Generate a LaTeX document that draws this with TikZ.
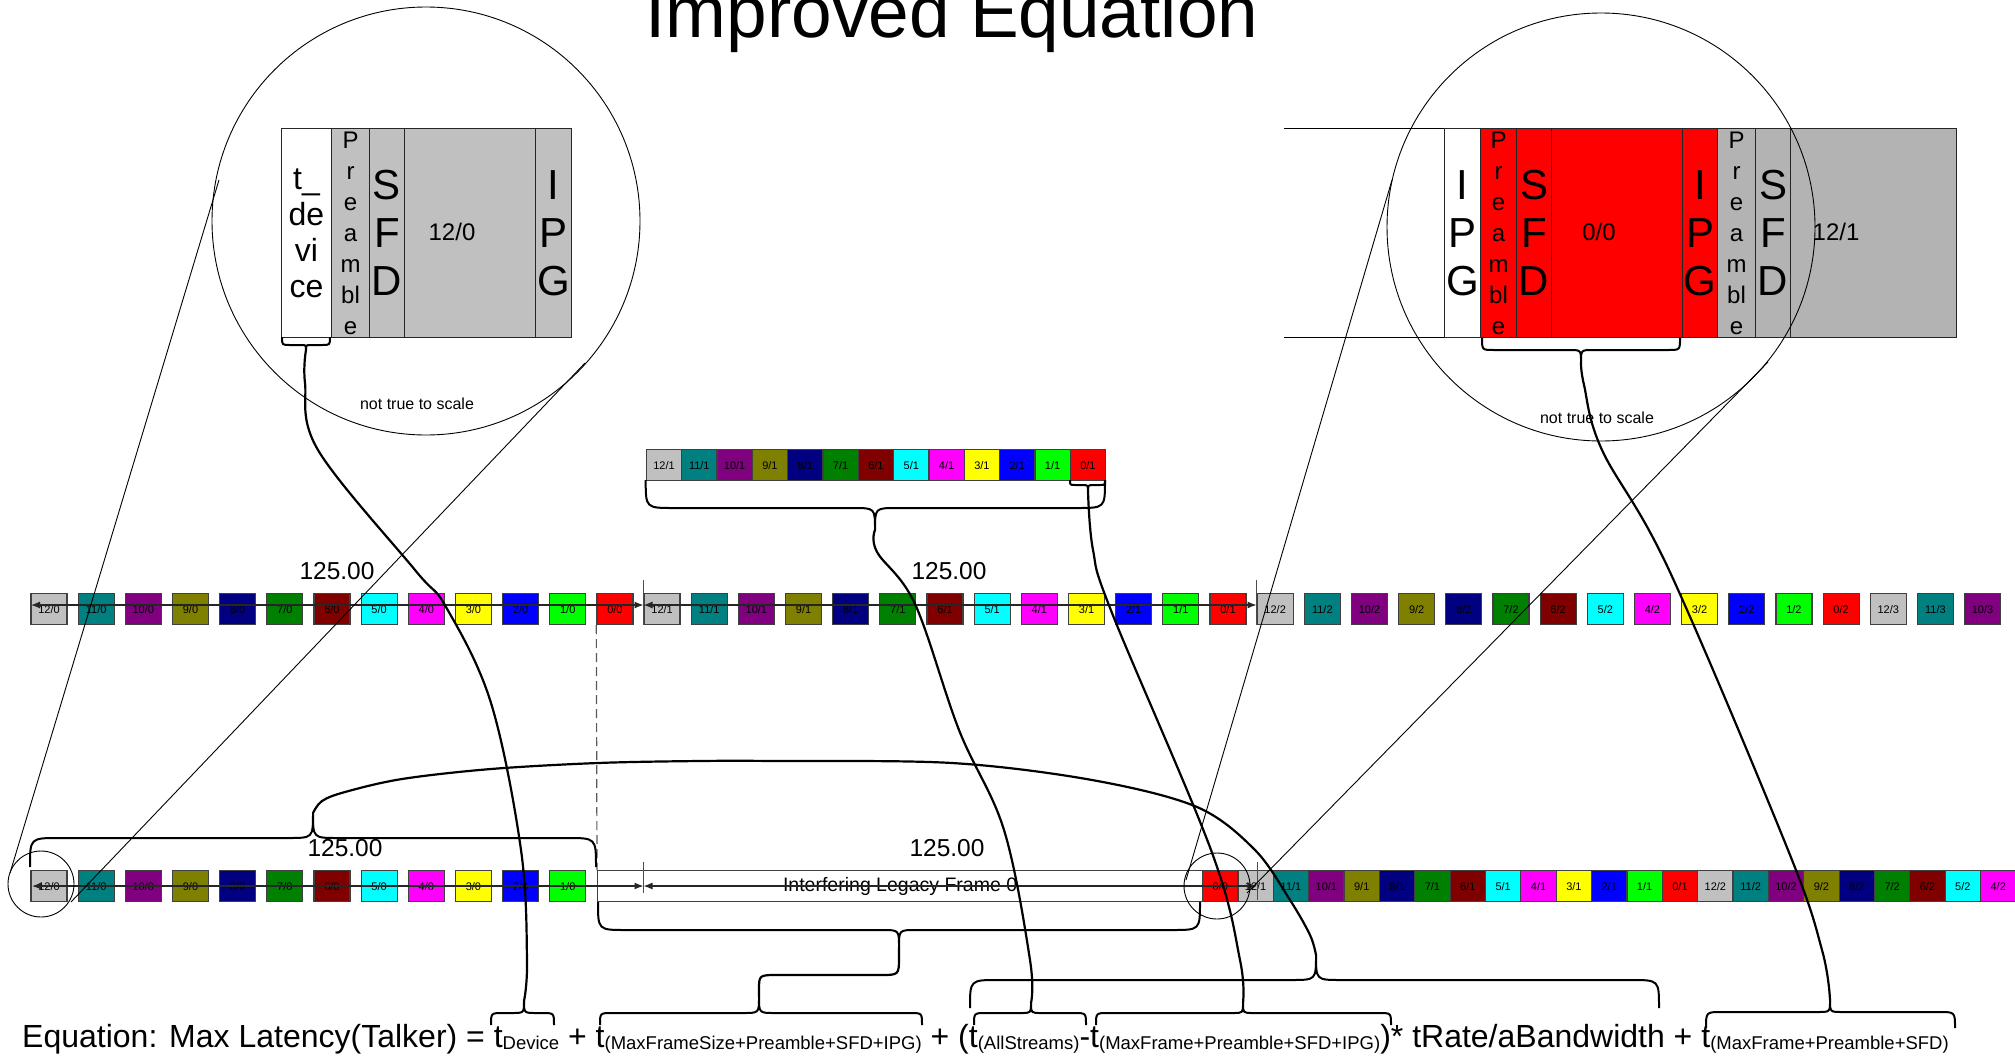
\documentclass[tikz,border=0pt]{standalone}
\usepackage{fontspec}
\setmainfont{Liberation Sans}
\usetikzlibrary{arrows.meta}

% stream colours: index = stream number
\definecolor{col12}{HTML}{C0C0C0}
\definecolor{col11}{HTML}{008080}
\definecolor{col10}{HTML}{800080}
\definecolor{col9}{HTML}{808000}
\definecolor{col8}{HTML}{000080}
\definecolor{col7}{HTML}{008000}
\definecolor{col6}{HTML}{800000}
\definecolor{col5}{HTML}{00FFFF}
\definecolor{col4}{HTML}{FF00FF}
\definecolor{col3}{HTML}{FFFF00}
\definecolor{col2}{HTML}{0000FF}
\definecolor{col1}{HTML}{00FF00}
\definecolor{col0}{HTML}{FF0000}
\definecolor{zgray}{HTML}{B3B3B3}
\definecolor{edge}{HTML}{404040}

% curly bracket: x1, x2, y at ends, y of flat part, x of tip, y of tip
\newcommand\curlybr[6]{%
  \pgfmathsetmacro\cbA{min(abs(#4-#3),0.5*abs(#2-#1))}%
  \pgfmathsetmacro\cbB{abs(#6-#4)}%
  \draw[brc] (#1,#3) .. controls (#1,#4) .. ({#1+\cbA},#4) -- ({#5-\cbB},#4)
    .. controls (#5,#4) .. (#5,#6) .. controls (#5,#4) .. ({#5+\cbB},#4)
    -- ({#2-\cbA},#4) .. controls (#2,#4) .. (#2,#3);}
\newcommand\eqsub[1]{\raisebox{-2pt}{\fontsize{18.5}{20}\selectfont #1}}

\tikzset{
  cell/.style={draw=edge, line width=1.2pt, inner sep=0pt, anchor=north west,
    minimum height=31pt, font=\fontsize{11}{12}\selectfont},
  zbox/.style={draw=black!85, line width=1pt, inner sep=0pt, anchor=north west,
    minimum height=209pt, align=center},
  stackS/.style={font=\fontsize{24}{31}\selectfont},
  stackL/.style={font=\fontsize{42}{48}\selectfont},
  dimln/.style={draw=black!85, line width=1.2pt,
    {Latex[length=9pt,width=7pt]}-{Latex[length=9pt,width=7pt]}},
  tickln/.style={draw=black!70, line width=1pt},
  brc/.style={line width=2pt, line join=round},
  conn/.style={line width=2.2pt, line cap=round, line join=round},
  lens/.style={line width=0.9pt},
  numlbl/.style={font=\fontsize{24.5}{28}\selectfont},
  note/.style={font=\fontsize{16}{18}\selectfont}
}

\begin{document}
\begin{tikzpicture}[x=1pt,y=-1pt]
\useasboundingbox (0,0) rectangle (2015,1060);
\clip (0,0) rectangle (2015,1060);

% title
\node[anchor=base, font=\fontsize{73}{80}\selectfont] (title) at (952,37) {Improved Equation};

% ---------- stream row (two cycles and a bit) ----------
\foreach \i in {0,...,41}{
  \pgfmathtruncatemacro\g{int(\i/13)}
  \pgfmathtruncatemacro\k{12-mod(\i,13)}
  \node[cell, fill=col\k, minimum width=36pt] (ra\i) at ({30.4+\i*47.16},593) {\k/\g};
}

% ---------- cycle 1 packed ----------
\foreach \i in {0,...,12}{
  \pgfmathtruncatemacro\k{12-\i}
  \node[cell, fill=col\k, minimum width=35.33pt] (rz\i) at ({645.7+\i*35.33},449) {\k/1};
}

% ---------- row with interfering legacy frame ----------
\foreach \i in {0,...,11}{
  \pgfmathtruncatemacro\k{12-\i}
  \node[cell, fill=col\k, minimum width=36pt] (rb\i) at ({30.4+\i*47.16},870) {\k/0};
}
\node[cell, fill=white, minimum width=605pt, font=\fontsize{19.5}{22}\selectfont] (interf) at (597,870) {Interfering Legacy Frame 0};
\foreach \i in {0,...,22}{
  \pgfmathtruncatemacro\j{\i+12}
  \pgfmathtruncatemacro\g{int(\j/13)}
  \pgfmathtruncatemacro\k{12-mod(\j,13)}
  \node[cell, fill=col\k, minimum width=35.36pt] (rc\i) at ({1202+\i*35.36},870) {\k/\g};
}

% ---------- magnified frame, left ----------
\node[zbox, fill=white, minimum width=50pt, font=\fontsize{32}{36}\selectfont] (tdev) at (281,128) {t\_\\de\\vi\\ce};
\node[zbox, fill=col12, minimum width=38pt, stackS] (preL) at (331,128) {P\\r\\e\\a\\m\\bl\\e};
\node[zbox, fill=col12, minimum width=35pt, stackL] (sfdL) at (369,128) {S\\F\\D};
\node[zbox, fill=col12, minimum width=131pt] (payL) at (404,128) {};
\node[zbox, fill=col12, minimum width=36pt, stackL] (ipgL) at (535,128) {I\\P\\G};
\node[font=\fontsize{24}{28}\selectfont] (payLt) at (452,232) {12/0};

% ---------- magnified frame, right ----------
\draw[line width=1pt] (1284,128) -- (1444,128);
\draw[line width=1pt] (1284,337) -- (1444,337);
\node[zbox, fill=white, minimum width=36pt, stackL] (ipgA) at (1444,128) {I\\P\\G};
\node[zbox, fill=col0, minimum width=36pt, stackS] (preA) at (1480,128) {P\\r\\e\\a\\m\\bl\\e};
\node[zbox, fill=col0, minimum width=35pt, stackL] (sfdA) at (1516,128) {S\\F\\D};
\node[zbox, fill=col0, minimum width=131pt] (payA) at (1551,128) {};
\node[zbox, fill=col0, minimum width=35pt, stackL] (ipgB) at (1682,128) {I\\P\\G};
\node[zbox, fill=zgray, minimum width=38pt, stackS] (preB) at (1717,128) {P\\r\\e\\a\\m\\bl\\e};
\node[zbox, fill=zgray, minimum width=35pt, stackL] (sfdB) at (1755,128) {S\\F\\D};
\node[zbox, fill=zgray, minimum width=166pt] (payB) at (1790,128) {};
\node[font=\fontsize{24}{28}\selectfont] (payAt) at (1599,232) {0/0};
\node[font=\fontsize{24}{28}\selectfont] (payBt) at (1836,232) {12/1};

\node[note] (ntsL) at (417,404) {not true to scale};
\node[note] (ntsR) at (1597,418) {not true to scale};

% ---------- dimension lines ----------
\coordinate (da0) at (31,605);
\coordinate (da1) at (643.5,605);
\coordinate (da2) at (1256.6,605);
\coordinate (db0) at (32,886);
\coordinate (db1) at (643.5,886);
\coordinate (db2) at (1256.6,886);
\draw[tickln] (643.5,580) -- (643.5,625);
\draw[tickln] (1256.6,580) -- (1256.6,625);
\draw[tickln] (643.5,862) -- (643.5,893);
\draw[tickln] (1257,862) -- (1257,900);
\draw[dimln] (da0) -- (da1);
\draw[dimln] (da1) -- (da2);
\draw[dimln] (db0) -- (db1);
\draw[dimln] (db1) -- (db2);
\node[numlbl] (lab1) at (337,571) {125.00};
\node[numlbl] (lab2) at (949,571) {125.00};
\node[numlbl] (lab3) at (345,848) {125.00};
\node[numlbl] (lab4) at (947,848) {125.00};
\draw[black!65, line width=1.2pt, dash pattern=on 9pt off 5pt] (ra12.south west) -- (interf.north west);

% ---------- equation ----------
\node[anchor=base west, font=\fontsize{32}{36}\selectfont, inner sep=0pt] (eqn) at (22,1047)
  {Equation: Max Latency(Talker) = t\eqsub{Device} + t\eqsub{(MaxFrameSize+Preamble+SFD+IPG)} + (t\eqsub{(AllStreams)}-t\eqsub{(MaxFrame+Preamble+SFD+IPG)})* tRate/aBandwidth + t\eqsub{(MaxFrame+Preamble+SFD)}};

% ---------- brackets ----------
\curlybr{282}{330}{337}{345}{306}{350}
\curlybr{1482}{1680}{338}{350}{1581}{362}
\curlybr{645.7}{1105}{480}{508}{875}{530}
\curlybr{1070}{1105}{480}{485}{1088}{491}
\curlybr{30}{596}{867}{838}{313}{813}
\curlybr{598}{1200}{902}{930}{899}{947}
\curlybr{491}{554}{1025}{1013}{524}{1001}
\curlybr{600}{922}{1025}{1013}{759}{997}
\curlybr{970}{1659}{1008}{980}{1316}{955}
\curlybr{974}{1086}{1025}{1013}{1031}{1003}
\curlybr{1096}{1391}{1025}{1013}{1243}{1003}
\curlybr{1706}{1955}{1028}{1012}{1830}{1000}

\coordinate (tipDev) at (306,350);
\coordinate (tipRed) at (1581,362);
\coordinate (tipAll) at (875,530);
\coordinate (tipOne) at (1088,491);
\coordinate (tipRow) at (313,813);
\coordinate (tipInt) at (899,947);
\coordinate (eqB1) at (524,1001);
\coordinate (eqB2) at (759,997);
\coordinate (eqB3) at (1316,955);
\coordinate (eqB4) at (1031,1003);
\coordinate (eqB5) at (1243,1003);
\coordinate (eqB6) at (1830,1000);

% ---------- magnifier lenses ----------
\node[draw, circle, lens, minimum size=428pt, inner sep=0pt] (lensL) at (426,221) {};
\node[draw, circle, lens, minimum size=428pt, inner sep=0pt] (lensR) at (1601,227) {};
\node[draw, circle, lens, minimum size=66pt, inner sep=0pt] (spotL) at (41,884) {};
\node[draw, circle, lens, minimum size=66pt, inner sep=0pt] (spotR) at (1217,886) {};
\draw[lens] (219,180) -- (10,873);
\draw[lens] (585,363) -- (71,902);
\draw[lens] (1392,180) -- (1186,880);
\draw[lens] (1768,362) -- (1247,893);

% ---------- connectors ----------
\draw[conn] plot[smooth, tension=0.6] coordinates {(tipDev) (305,383) (318,450) (415,570) (446,607) (491,703) (521,850) (527,960) (eqB1)};
\draw[conn] plot[smooth, tension=0.6] coordinates {(tipRed) (1584,385) (1602,450) (1669,570) (1788,850) (1822,950) (eqB6)};
\draw[conn] plot[smooth, tension=0.6] coordinates {(tipAll) (877,552) (915,604) (959,730) (1004,830) (1030,960) (eqB4)};
\draw[conn] plot[smooth, tension=0.6] coordinates {(tipOne) (1093,550) (1112,613) (1211,850) (1240,960) (eqB5)};
\draw[conn] plot[smooth, tension=0.55] coordinates {(tipRow) (322,801) (345,792) (402,779) (491,769) (598,763) (700,761) (776,761) (952,763) (1092,780) (1197,807) (1255,850) (1290,900) (1310,935) (eqB3)};
\draw[conn] (tipInt) -- (899,957) .. controls (899,975) .. (880,975) -- (778,975) .. controls (759,975) .. (759,990) -- (eqB2);

\end{tikzpicture}
\end{document}
